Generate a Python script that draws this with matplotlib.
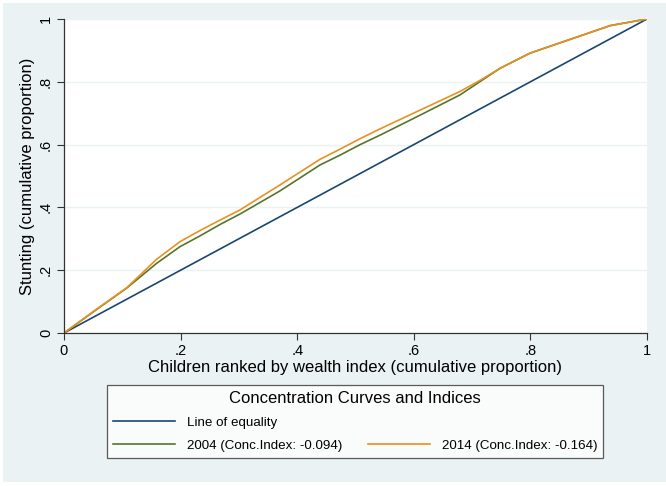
import numpy as np
import matplotlib
matplotlib.use("Agg")
import matplotlib.pyplot as plt
from matplotlib.patches import Rectangle
from matplotlib.lines import Line2D

plt.rcParams['font.family'] = ['Liberation Sans', 'DejaVu Sans']

# cumulative share of children ranked by wealth
rank = [0, 0.05, 0.1075, 0.159, 0.199, 0.233, 0.268, 0.302, 0.370, 0.439, 0.473,
        0.508, 0.542, 0.611, 0.679, 0.713, 0.748, 0.799, 0.868, 0.937, 1.0]
stunt_2004 = [0, 0.067, 0.143, 0.222, 0.275, 0.309, 0.346, 0.379, 0.452, 0.535, 0.566,
              0.600, 0.630, 0.694, 0.758, 0.800, 0.843, 0.891, 0.935, 0.979, 1.0]
stunt_2014 = [0, 0.068, 0.144, 0.235, 0.291, 0.326, 0.360, 0.392, 0.471, 0.553, 0.585,
              0.619, 0.650, 0.710, 0.769, 0.804, 0.843, 0.891, 0.935, 0.979, 1.0]
equality = [0, 1]
ticks = [0, 0.2, 0.4, 0.6, 0.8, 1]
tick_labels = ['0', '.2', '.4', '.6', '.8', '1']

BG = '#eaf2f3'
NAVY = '#1a476f'
GREEN = '#55752f'
ORANGE = '#e8911f'

fig = plt.figure(figsize=(6.66, 4.86), dpi=100, facecolor='white')
fig.patches.append(Rectangle((3 / 666, 4 / 486), 663 / 666, 479 / 486,
                             transform=fig.transFigure, facecolor=BG,
                             edgecolor='none', zorder=-10))

ax = fig.add_axes([64 / 666, 1 - 333 / 486, 583 / 666, 314 / 486])
ax.set_facecolor('white')

ax.plot(equality, equality, color=NAVY, lw=1.2)
ax.plot(rank, stunt_2004, color=GREEN, lw=1.2)
ax.plot(rank, stunt_2014, color=ORANGE, lw=1.2)

ax.set_xlim(0, 1)
ax.set_ylim(0, 1)
ax.set_xticks(ticks)
ax.set_xticklabels(tick_labels, fontsize=10.5)
ax.set_yticks(ticks)
ax.set_yticklabels(tick_labels, fontsize=10.5, rotation=90, va='center')
ax.tick_params(direction='out', length=5, width=0.8, color='#333333', pad=3)
ax.grid(axis='y', color=BG, lw=1)
ax.set_axisbelow(True)
for s in ['top', 'right']:
    ax.spines[s].set_visible(False)
for s in ['left', 'bottom']:
    ax.spines[s].set_color('#333333')
    ax.spines[s].set_linewidth(0.9)

ax.set_xlabel('Children ranked by wealth index (cumulative proportion)', fontsize=12, labelpad=1)
ax.set_ylabel('Stunting (cumulative proportion)', fontsize=12, labelpad=3)

handles = [Line2D([], [], color=NAVY, lw=1.2),
           Line2D([], [], color=GREEN, lw=1.2),
           Line2D([], [], color='none'),
           Line2D([], [], color=ORANGE, lw=1.2)]
labels = ['Line of equality', '2004 (Conc.Index: -0.094)', '', '2014 (Conc.Index: -0.164)']
leg = fig.legend(handles, labels, ncol=2, mode='expand',
                 bbox_to_anchor=(100 / 666, 1 - 456 / 486, 510 / 666, 78 / 486),
                 loc='upper left', fontsize=9.6, title='Concentration Curves and Indices',
                 title_fontsize=12, frameon=True, fancybox=False, handlelength=4.65,
                 borderpad=0.45, labelspacing=0.8, columnspacing=1.0, handletextpad=0.9)
leg.get_frame().set_edgecolor('#333333')
leg.get_frame().set_linewidth(0.9)

fig.savefig('out.png', dpi=100, facecolor='white')
